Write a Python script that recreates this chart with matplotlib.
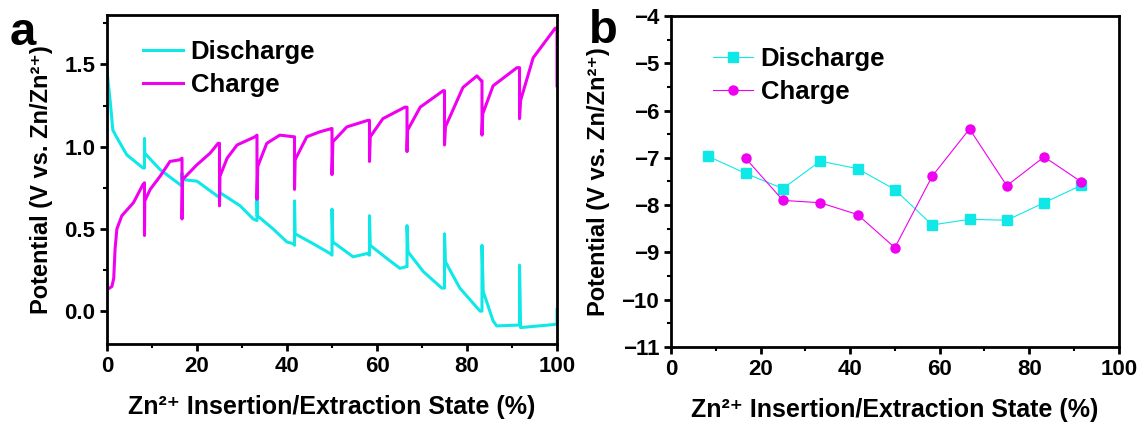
import matplotlib
matplotlib.use("Agg")
import matplotlib.pyplot as plt
from matplotlib.ticker import MultipleLocator

plt.rcParams['font.family'] = ['Liberation Sans', 'DejaVu Sans']
plt.rcParams['font.weight'] = 'bold'

# ---------------- Panel a data (key points) ----------------
dis_x = [0.0, 0.7, 1.3, 2.5, 4.4, 8.0, 8.33, 8.33, 8.4, 11.8, 16.2, 16.67, 16.67, 16.7,
         20.0, 25.0, 25.0, 25.1, 29.6, 32.5, 33.33, 33.33, 33.4, 36.9, 40.0, 41.4,
         41.67, 41.67, 41.8, 45.8, 49.6, 50.0, 50.0, 50.2, 54.7, 57.8, 58.33, 58.33,
         58.5, 62.2, 65.1, 66.5, 66.67, 66.67, 66.9, 70.3, 74.4, 75.0, 75.0, 75.2,
         78.4, 82.9, 83.33, 83.33, 83.6, 85.8, 86.6, 91.4, 91.67, 91.67, 91.9, 100.0, 100.0]
dis_y = [1.46, 1.28, 1.10, 1.04, 0.95, 0.87, 0.87, 1.05, 0.96, 0.86, 0.77, 0.76, 0.84, 0.80,
         0.79, 0.69, 0.76, 0.72, 0.64, 0.56, 0.55, 0.68, 0.58, 0.50, 0.42, 0.41,
         0.40, 0.67, 0.47, 0.41, 0.35, 0.34, 0.62, 0.42, 0.33, 0.35, 0.34, 0.58,
         0.40, 0.32, 0.26, 0.27, 0.27, 0.52, 0.36, 0.24, 0.14, 0.14, 0.47, 0.30,
         0.14, 0.00, 0.00, 0.40, 0.12, -0.06, -0.09, -0.085, -0.085, 0.28, -0.10, -0.08, 0.01]

chg_x = [0.0, 1.1, 1.5, 1.8, 2.2, 3.3, 5.9, 8.0, 8.33, 8.33, 8.4, 9.6, 11.8, 14.0, 16.2,
         16.67, 16.67, 16.8, 20.0, 22.9, 24.7, 25.0, 25.0, 25.1, 26.7, 28.9, 32.9,
         33.33, 33.33, 33.5, 35.5, 38.4, 41.4, 41.67, 41.67, 41.8, 44.4, 47.3, 49.9,
         50.0, 50.0, 50.2, 53.3, 58.0, 58.33, 58.33, 58.5, 61.3, 66.2, 66.67, 66.67,
         66.8, 69.6, 74.7, 75.0, 75.0, 75.2, 79.1, 82.2, 83.2, 83.33, 83.33, 83.5,
         85.8, 91.1, 91.67, 91.67, 91.9, 94.7, 99.6, 100.0, 100.0]
chg_y = [0.13, 0.15, 0.20, 0.38, 0.50, 0.58, 0.66, 0.77, 0.78, 0.46, 0.67, 0.74, 0.82, 0.91, 0.92,
         0.93, 0.56, 0.80, 0.89, 0.96, 1.02, 1.02, 0.64, 0.82, 0.93, 1.01, 1.06,
         1.07, 0.68, 0.88, 1.02, 1.07, 1.06, 1.06, 0.74, 0.92, 1.06, 1.09, 1.11,
         1.11, 0.83, 1.03, 1.12, 1.16, 1.16, 0.91, 1.06, 1.17, 1.24, 1.24, 0.97,
         1.10, 1.24, 1.34, 1.34, 1.01, 1.12, 1.36, 1.43, 1.40, 1.40, 1.07, 1.20,
         1.37, 1.48, 1.48, 1.17, 1.28, 1.54, 1.72, 1.72, 1.37]

# ---------------- Panel b data ----------------
state_dis = [8.33, 16.67, 25.0, 33.33, 41.67, 50.0, 58.33, 66.67, 75.0, 83.33, 91.67]
logD_dis = [-6.97, -7.33, -7.65, -7.07, -7.23, -7.67, -8.42, -8.30, -8.32, -7.95, -7.58]
state_chg = [16.67, 25.0, 33.33, 41.67, 50.0, 58.33, 66.67, 75.0, 83.33, 91.67]
logD_chg = [-7.01, -7.90, -7.95, -8.20, -8.90, -7.39, -6.39, -7.59, -6.98, -7.51]

CYAN = '#10E8E8'
MAG = '#F000F0'

xlabel = 'Zn²⁺ Insertion/Extraction State (%)'
ylabel = 'Potential (V vs. Zn/Zn²⁺)'

fig = plt.figure(figsize=(11.48, 4.30), dpi=100)
axa = fig.add_axes([0.0932, 0.200, 0.392, 0.765])
axb = fig.add_axes([0.5845, 0.193, 0.390, 0.770])

def style(ax):
    for s in ax.spines.values():
        s.set_linewidth(2.0)
    ax.tick_params(which='major', direction='out', length=5, width=2, labelsize=16,
                   top=False, right=False)
    ax.tick_params(which='minor', direction='out', length=3, width=1.5,
                   top=False, right=False)
    for lab in ax.get_xticklabels() + ax.get_yticklabels():
        lab.set_fontweight('bold')
    ax.set_xlabel(xlabel, fontsize=18, fontweight='bold', labelpad=13)
    ax.set_ylabel(ylabel, fontsize=17, fontweight='bold', labelpad=8)

axa.plot(dis_x, dis_y, color=CYAN, lw=2.2, label='Discharge')
axa.plot(chg_x, chg_y, color=MAG, lw=2.2, label='Charge')
axa.set_xlim(0, 100)
axa.set_ylim(-0.2, 1.8)
axa.xaxis.set_major_locator(MultipleLocator(20))
axa.xaxis.set_minor_locator(MultipleLocator(10))
axa.yaxis.set_minor_locator(MultipleLocator(0.25))
axa.set_yticks([0.0, 0.5, 1.0, 1.5])
axa.set_yticklabels(['0.0', '0.5', '1.0', '1.5'])
style(axa)
axa.legend(loc='upper left', frameon=False, fontsize=18.5, handlelength=1.55,
           handletextpad=0.3, labelspacing=0.35, borderaxespad=0.0, borderpad=0.0,
           bbox_to_anchor=(0.08, 0.925))

axb.plot(state_dis, logD_dis, color=CYAN, lw=0.8, marker='s', ms=6.5,
         mec=CYAN, mfc=CYAN, label='Discharge')
axb.plot(state_chg, logD_chg, color=MAG, lw=0.8, marker='o', ms=6.5,
         mec=MAG, mfc=MAG, label='Charge')
axb.set_xlim(0, 100)
axb.set_ylim(-11, -4)
axb.xaxis.set_major_locator(MultipleLocator(20))
axb.xaxis.set_minor_locator(MultipleLocator(10))
axb.yaxis.set_major_locator(MultipleLocator(1))
axb.yaxis.set_minor_locator(MultipleLocator(0.5))
style(axb)
axb.legend(loc='upper left', frameon=False, fontsize=18.5, handlelength=1.55,
           handletextpad=0.3, labelspacing=0.35, borderaxespad=0.0, borderpad=0.0,
           bbox_to_anchor=(0.094, 0.905))

fig.text(0.008, 0.975, 'a', fontsize=34, fontweight='bold', va='top', ha='left')
fig.text(0.513, 0.98, 'b', fontsize=34, fontweight='bold', va='top', ha='left')

fig.savefig('out.png', dpi=100)
